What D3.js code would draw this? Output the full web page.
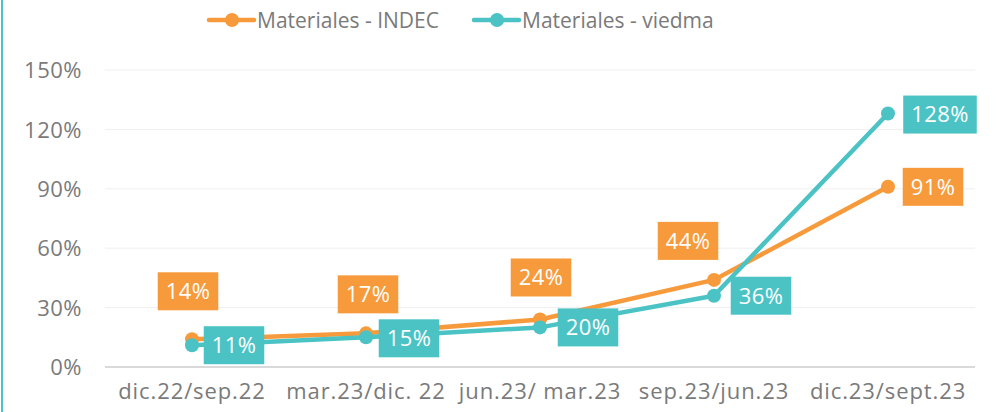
<!DOCTYPE html>
<html>
<head>
<meta charset="utf-8">
<script src="https://cdn.jsdelivr.net/npm/d3@7"></script>
<style>
  html, body { margin: 0; padding: 0; background: #fff; }
  svg text { font-family: "Open Sans", "Noto Sans", sans-serif; }
</style>
</head>
<body>
<div id="chart"></div>
<script>
// data
var categories = ['dic.22/sep.22', 'mar.23/dic. 22', 'jun.23/ mar.23', 'sep.23/jun.23', 'dic.23/sept.23'];
var indec = [14, 17, 24, 44, 91];
var viedma = [11, 15, 20, 36, 128];
var yTicks = [0, 30, 60, 90, 120, 150];
var seriesNames = ['Materiales - INDEC', 'Materiales - viedma'];

var width = 996, height = 412;
var orange = '#F79A3B', teal = '#4BC3C5';

var svg = d3.select('#chart').append('svg')
    .attr('width', width)
    .attr('height', height);

// thin teal frame line on the left
svg.append('line')
    .attr('x1', 2).attr('x2', 2)
    .attr('y1', 0).attr('y2', height)
    .style('stroke', teal)
    .style('stroke-width', 2);

var x = d3.scaleBand().domain(categories).range([105, 975]);
var y = d3.scaleLinear().domain([0, 150]).range([367, 70]);

// grid
svg.append('g').selectAll('line')
    .data(yTicks.slice(1))
    .enter().append('line')
    .attr('x1', 105).attr('x2', 975)
    .attr('y1', function (d) { return y(d); })
    .attr('y2', function (d) { return y(d); })
    .style('stroke', '#efefef')
    .style('stroke-width', 1);

svg.append('line')
    .attr('x1', 105).attr('x2', 975)
    .attr('y1', y(0)).attr('y2', y(0))
    .style('stroke', '#d9d9d9')
    .style('stroke-width', 2);

// y axis labels
var yAxis = d3.axisLeft(y).tickValues(yTicks).tickSize(0).tickPadding(0)
    .tickFormat(function (d) { return d + '%'; });
var yg = svg.append('g').attr('transform', 'translate(82,0)').call(yAxis);
yg.select('.domain').remove();
yg.selectAll('text')
    .style('font-size', '22px')
    .style('letter-spacing', '0.5px')
    .style('fill', '#7a7a7a')
    .attr('dy', '0.35em');

// x axis labels
var xAxis = d3.axisBottom(x).tickSize(0).tickPadding(0);
var xg = svg.append('g').attr('transform', 'translate(0,383)').call(xAxis);
xg.select('.domain').remove();
xg.selectAll('text')
    .style('font-size', '22px')
    .style('letter-spacing', '0.9px')
    .style('fill', '#7a7a7a')
    .attr('dy', '0.71em');

var line = d3.line()
    .x(function (d, i) { return x(categories[i]) + x.bandwidth() / 2; })
    .y(function (d) { return y(d); });

function drawSeries(values, color) {
    svg.append('path')
        .datum(values)
        .attr('d', line)
        .style('fill', 'none')
        .style('stroke', color)
        .style('stroke-width', 4.5)
        .style('stroke-linejoin', 'round');
    svg.append('g').selectAll('circle')
        .data(values)
        .enter().append('circle')
        .attr('cx', function (d, i) { return x(categories[i]) + x.bandwidth() / 2; })
        .attr('cy', function (d) { return y(d); })
        .attr('r', 7)
        .style('fill', color);
}
drawSeries(indec, orange);
drawSeries(viedma, teal);

// data labels: offsets of the label centre from its point
var indecOffsets = [[-4, -48], [2, -39], [1, -42], [-26, -39], [45, 0]];
var viedmaOffsets = [[42, 0], [43, 1], [48, 0], [47, 0], [52, 1]];

function drawLabels(values, color, offsets) {
    var g = svg.append('g').selectAll('g')
        .data(values)
        .enter().append('g')
        .attr('transform', function (d, i) {
            var cx = x(categories[i]) + x.bandwidth() / 2 + offsets[i][0];
            var cy = y(d) + offsets[i][1];
            return 'translate(' + cx + ',' + cy + ')';
        });
    g.append('rect')
        .style('fill', color);
    g.append('text')
        .attr('text-anchor', 'middle')
        .attr('dy', '0.36em')
        .style('font-size', '22px')
        .style('letter-spacing', '0.4px')
        .style('fill', '#fff')
        .text(function (d) { return d + '%'; });
    g.each(function () {
        var t = d3.select(this).select('text').node().getBBox();
        d3.select(this).select('rect')
            .attr('x', -t.width / 2 - 8)
            .attr('y', -19)
            .attr('width', t.width + 16)
            .attr('height', 38);
    });
}
drawLabels(indec, orange, indecOffsets);
drawLabels(viedma, teal, viedmaOffsets);

// legend
var legendItems = [
    { name: seriesNames[0], color: orange, x: 209 },
    { name: seriesNames[1], color: teal, x: 474 }
];
var lg = svg.append('g').selectAll('g')
    .data(legendItems)
    .enter().append('g')
    .attr('transform', function (d) { return 'translate(' + d.x + ',20)'; });
lg.append('line')
    .attr('x1', 0).attr('x2', 45)
    .style('stroke', function (d) { return d.color; })
    .style('stroke-width', 4.5)
    .style('stroke-linecap', 'round');
lg.append('circle')
    .attr('cx', 23).attr('r', 7)
    .style('fill', function (d) { return d.color; });
lg.append('text')
    .attr('x', 48)
    .attr('dy', '0.36em')
    .style('font-size', '21px')
    .style('fill', '#7a7a7a')
    .text(function (d) { return d.name; });
</script>
</body>
</html>
